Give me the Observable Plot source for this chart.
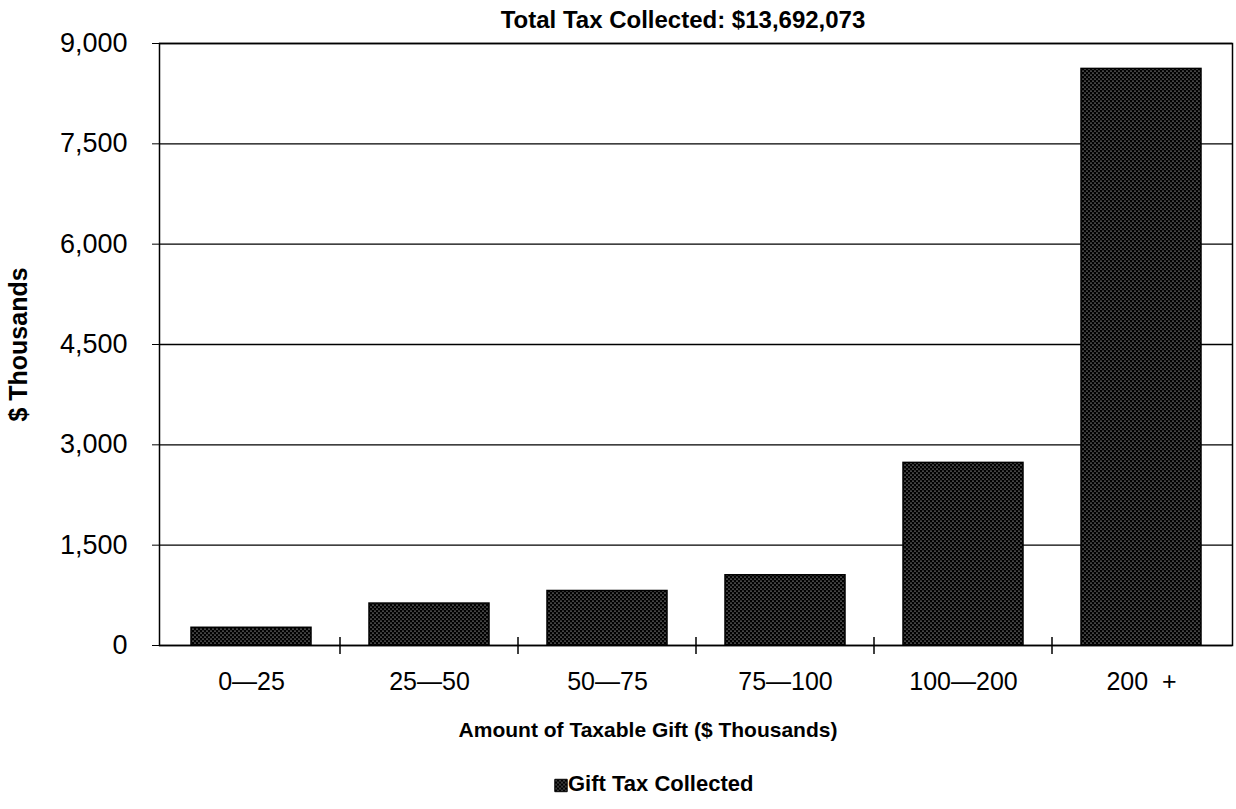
<!DOCTYPE html>
<html>
<head>
<meta charset="utf-8">
<script src="https://cdn.jsdelivr.net/npm/d3@7"></script>
<script src="https://cdn.jsdelivr.net/npm/@observablehq/plot@0.6"></script>
<style>
  html, body { margin: 0; padding: 0; background: #fff; }
  #chart svg { display: block; }
</style>
</head>
<body>
<div id="chart"></div>
<script>
// ---- data ----
const categories = ["0\u201425", "25\u201450", "50\u201475", "75\u2014100", "100\u2014200", "200  +"];
const giftTax = [265, 627, 815, 1050, 2730, 8620];
const yTicks = [0, 1500, 3000, 4500, 6000, 7500, 9000];
const titleText = "Total Tax Collected: $13,692,073";
const yLabel = "$ Thousands";
const xLabel = "Amount of Taxable Gift ($ Thousands)";
const legendLabel = "Gift Tax Collected";

const rows = categories.map((c, i) => ({category: c, value: giftTax[i]}));

// boundary ticks between categories, positioned via the x scale
function boundaryTicks(index, scales) {
  const g = d3.create("svg:g");
  const y0 = scales.y(0);
  categories.slice(1).forEach(c => {
    const x = scales.x(c);
    g.append("line")
      .attr("x1", x).attr("x2", x)
      .attr("y1", y0 - 8).attr("y2", y0 + 9)
      .attr("stroke", "black").attr("stroke-width", 1.5);
  });
  return g.node();
}

const font = "'Liberation Sans', Arial, sans-serif";

const chart = Plot.plot({
  width: 1236,
  height: 809,
  marginLeft: 159,
  marginRight: 4,
  marginTop: 43,
  marginBottom: 164,
  style: {fontFamily: font, fontSize: "25px", color: "black", background: "white"},
  x: {domain: categories, padding: 0, label: null},
  y: {domain: [0, 9000], label: null},
  marks: [
    Plot.ruleY(yTicks, {stroke: "black", strokeWidth: 1.3}),
    Plot.barY(rows, {x: "category", y: "value", fill: "url(#dots)", stroke: "black", strokeWidth: 1.5, insetLeft: 29, insetRight: 29}),
    Plot.frame({stroke: "black", strokeWidth: 1.5}),
    Plot.axisY({ticks: yTicks, tickFormat: d3.format(","), tickSize: 7, tickPadding: 25, fontSize: 27, label: null}),
    Plot.axisX({tickSize: 0, tickPadding: 27, fontSize: 25, label: null}),
    boundaryTicks,
    Plot.text([titleText], {frameAnchor: "top", dy: -33, dx: -13, fontSize: 24, fontWeight: "bold"}),
    Plot.text([yLabel], {frameAnchor: "left", textAnchor: "middle", rotate: -90, dx: -141, fontSize: 25, fontWeight: "bold"}),
    Plot.text([xLabel], {frameAnchor: "bottom", dy: 91, dx: -48, fontSize: 21, fontWeight: "bold"}),
    Plot.dot([legendLabel], {frameAnchor: "bottom", dx: -135, dy: 140, symbol: "square", r: 7, fill: "url(#dots)", stroke: "black", strokeWidth: 1}),
    Plot.text([legendLabel], {frameAnchor: "bottom", dx: -128, dy: 145, textAnchor: "start", fontSize: 22, fontWeight: "bold"})
  ]
});

// dotted fill pattern for the bars
const defs = d3.select(chart).insert("defs", ":first-child");
const pat = defs.append("pattern")
  .attr("id", "dots").attr("patternUnits", "userSpaceOnUse")
  .attr("width", 4).attr("height", 4);
pat.append("rect").attr("width", 4).attr("height", 4).attr("fill", "#000");
pat.append("circle").attr("cx", 1).attr("cy", 1).attr("r", 0.6).attr("fill", "#fff");
pat.append("circle").attr("cx", 3).attr("cy", 3).attr("r", 0.6).attr("fill", "#fff");

document.getElementById("chart").appendChild(chart);
</script>
</body>
</html>
